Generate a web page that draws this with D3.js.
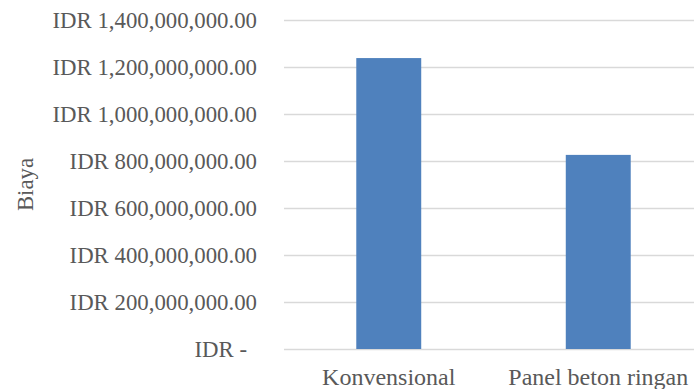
<!DOCTYPE html>
<html>
<head>
<meta charset="utf-8">
<script src="https://cdn.jsdelivr.net/npm/d3@7"></script>
<style>
  html, body { margin: 0; padding: 0; background: #fff; }
  svg { display: block; }
  svg text { font-family: "Liberation Serif", "DejaVu Serif", serif; fill: #595959; font-size: 22.8px; }
  svg .x-axis text { font-size: 24px; }
</style>
</head>
<body>
<svg id="chart" width="694" height="389"></svg>
<script>
// Construction cost per method (IDR)
const categories = ["Konvensional", "Panel beton ringan"];
const costs = [1238000000, 826000000];
const yTicks = [0, 200000000, 400000000, 600000000, 800000000, 1000000000, 1200000000, 1400000000];
const yTitle = "Biaya";

const svg = d3.select("#chart");
const plot = { left: 284, right: 703, top: 20, bottom: 349 };

const x = d3.scaleBand()
  .domain(categories)
  .range([plot.left, plot.right])
  .paddingInner(0.69)
  .paddingOuter(0.345);

const y = d3.scaleLinear()
  .domain([0, 1400000000])
  .range([plot.bottom, plot.top]);

const fmt = d3.format(",.2f");
const tickLabel = v => v === 0 ? "IDR -" : "IDR " + fmt(v);

// Horizontal gridlines
svg.append("g")
  .selectAll("line")
  .data(yTicks)
  .join("line")
  .attr("x1", plot.left)
  .attr("x2", plot.right)
  .attr("y1", d => Math.round(y(d)) + 0.5)
  .attr("y2", d => Math.round(y(d)) + 0.5)
  .attr("stroke", "#d9d9d9")
  .attr("stroke-width", 1.5);

// Y axis tick labels
const yAxis = svg.append("g")
  .attr("class", "y-axis")
  .attr("transform", `translate(${plot.left},0)`)
  .call(d3.axisLeft(y).tickValues(yTicks).tickFormat(tickLabel).tickSize(0).tickPadding(27))
  .attr("font-family", null)
  .attr("font-size", null);
yAxis.select(".domain").remove();
yAxis.selectAll("text")
  .attr("fill", null)
  .attr("dx", d => d === 0 ? -10 : 0);

// Bars
svg.append("g")
  .selectAll("rect")
  .data(categories.map((c, i) => ({ c, v: costs[i] })))
  .join("rect")
  .attr("x", d => x(d.c))
  .attr("width", x.bandwidth())
  .attr("y", d => y(d.v))
  .attr("height", d => y(0) - y(d.v))
  .attr("fill", "#4f81bd");

// Category labels
const xAxis = svg.append("g")
  .attr("class", "x-axis")
  .attr("transform", `translate(0,${plot.bottom})`)
  .call(d3.axisBottom(x).tickSize(0).tickPadding(19))
  .attr("font-family", null)
  .attr("font-size", null);
xAxis.select(".domain").remove();
xAxis.selectAll("text").attr("fill", null);

// Axis title
svg.append("text")
  .attr("transform", `translate(33,${(plot.top + plot.bottom) / 2}) rotate(-90)`)
  .attr("text-anchor", "middle")
  .text(yTitle);
</script>
</body>
</html>
